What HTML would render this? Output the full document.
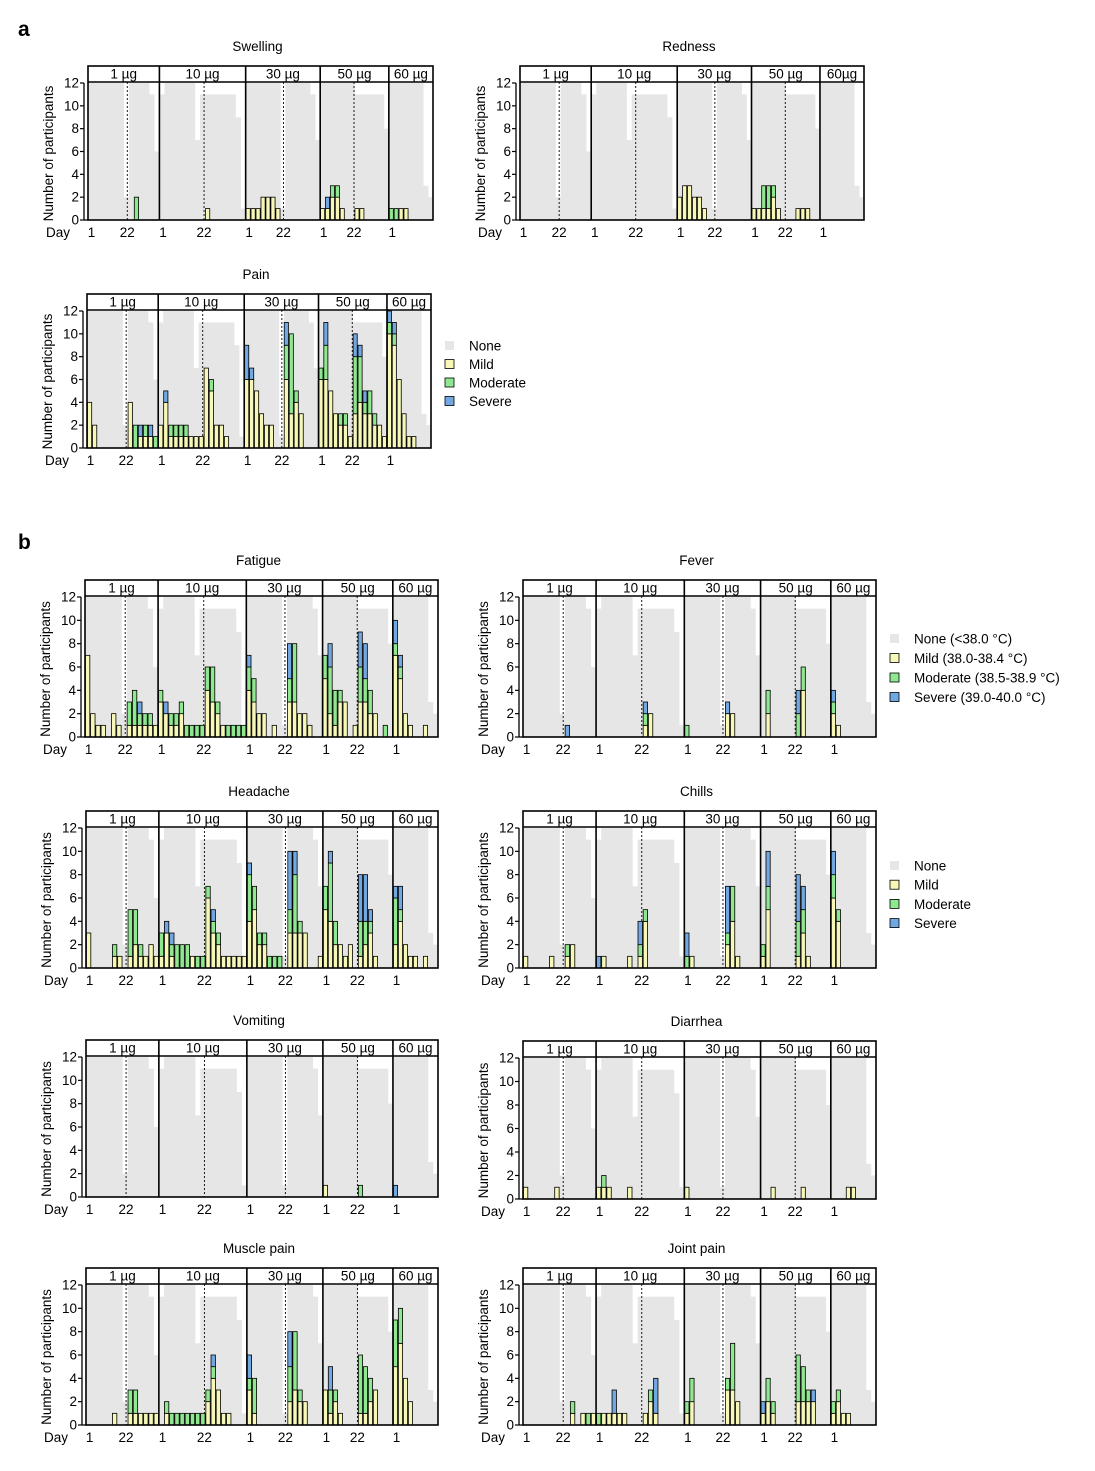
<!DOCTYPE html>
<html><head><meta charset="utf-8"><style>
html,body{margin:0;padding:0;background:#fff}
svg{display:block;font-family:"Liberation Sans",Arial,sans-serif}
</style></head><body>
<svg id="fig" width="1095" height="1471" viewBox="0 0 1095 1471" xmlns="http://www.w3.org/2000/svg">
<text x="18" y="36" font-size="21" font-weight="bold">a</text>
<text x="18" y="549" font-size="21" font-weight="bold">b</text>
</svg>
<script>
// dose groups and day slots
const groupLabels = ["1 \u00b5g","10 \u00b5g","30 \u00b5g","50 \u00b5g","60 \u00b5g"];
const groupSlots = [14,17,15,14,9];
const yTicks = [0,2,4,6,8,10,12];
// participants per slot ("None" background)
const noneG1 = [12,12,12,12,12,12,12,2,12,12,12,12,11,6];
const noneG2 = [11,12,12,12,12,12,12,7,11,11,11,11,11,11,11,9,1];
const noneG3 = [12,12,12,12,12,12,12,1,12,12,12,12,12,11,7];
const noneG4 = [12,12,12,12,12,12,12,11,11,11,11,11,11,8];
const noneG5 = [12,12,12,12,12,12,12,3,2];
// rows: [group, slot, mild, moderate, severe]
const swelling = [[0,9,0,2,0],[1,9,1,0,0],[2,0,1,0,0],[2,1,1,0,0],[2,2,1,0,0],[2,3,2,0,0],[2,4,2,0,0],[2,5,2,0,0],[2,6,1,0,0],
 [3,0,1,0,0],[3,1,1,0,1],[3,2,2,1,0],[3,3,2,1,0],[3,4,1,0,0],[3,7,1,0,0],[3,8,1,0,0],[4,0,0,1,0],[4,1,0,1,0],[4,2,1,0,0],[4,3,1,0,0]];
const redness = [[2,0,2,0,0],[2,1,3,0,0],[2,2,3,0,0],[2,3,2,0,0],[2,4,2,0,0],[2,5,1,0,0],
 [3,0,1,0,0],[3,1,1,0,0],[3,2,1,2,0],[3,3,1,2,0],[3,4,2,1,0],[3,5,1,0,0],[3,9,1,0,0],[3,10,1,0,0],[3,11,1,0,0]];
const pain = [[0,0,4,0,0],[0,1,2,0,0],[0,8,4,0,0],[0,9,0,2,0],[0,10,1,0,1],[0,11,1,1,0],[0,12,1,0,1],[0,13,0,1,0],
 [1,0,2,0,0],[1,1,4,0,1],[1,2,1,1,0],[1,3,1,1,0],[1,4,1,1,0],[1,5,1,1,0],[1,6,1,0,0],[1,7,1,0,0],[1,8,1,0,0],
 [1,9,7,0,0],[1,10,5,1,0],[1,11,2,0,0],[1,12,2,0,0],[1,13,1,0,0],
 [2,0,6,0,3],[2,1,6,0,1],[2,2,5,0,0],[2,3,3,0,0],[2,4,2,0,0],[2,5,2,0,0],[2,8,6,3,2],[2,9,3,7,0],[2,10,4,1,0],[2,11,3,0,0],
 [3,0,6,1,0],[3,1,6,3,2],[3,2,5,0,0],[3,3,3,0,0],[3,4,2,1,0],[3,5,2,1,0],[3,6,1,0,0],
 [3,7,3,5,2],[3,8,4,4,1],[3,9,3,1,1],[3,10,3,2,0],[3,11,2,1,0],[3,12,2,0,0],[3,13,1,0,0],
 [4,0,10,1,1],[4,1,9,1,1],[4,2,6,0,0],[4,3,3,0,0],[4,4,1,0,0],[4,5,1,0,0]];
const fatigue = [[0,0,7,0,0],[0,1,2,0,0],[0,2,1,0,0],[0,3,1,0,0],[0,5,2,0,0],[0,6,1,0,0],[0,8,1,2,0],[0,9,1,3,0],[0,10,1,1,1],[0,11,1,1,0],[0,12,1,1,0],[0,13,1,0,0],
 [1,0,3,1,0],[1,1,2,0,1],[1,2,1,1,0],[1,3,1,1,0],[1,4,2,1,0],[1,5,0,1,0],[1,6,0,1,0],[1,7,0,1,0],[1,8,0,1,0],
 [1,9,4,2,0],[1,10,3,3,0],[1,11,2,1,0],[1,12,1,0,0],[1,13,0,1,0],[1,14,0,1,0],[1,15,0,1,0],[1,16,0,1,0],
 [2,0,4,2,1],[2,1,3,2,0],[2,2,2,0,0],[2,3,2,0,0],[2,5,1,0,0],[2,8,3,2,3],[2,9,3,5,0],[2,10,2,0,0],[2,11,2,0,0],[2,12,1,0,0],
 [3,0,5,2,0],[3,1,2,4,2],[3,2,1,3,0],[3,3,3,1,0],[3,4,3,0,0],[3,6,1,0,0],[3,7,3,3,3],[3,8,3,2,3],[3,9,2,2,0],[3,10,2,0,0],[3,12,0,1,0],
 [4,0,7,1,2],[4,1,5,1,1],[4,2,2,0,0],[4,3,1,0,0],[4,6,1,0,0]];
const fever = [[0,8,0,0,1],[1,9,1,1,1],[1,10,2,0,0],[2,0,0,1,0],[2,8,2,0,1],[2,9,2,0,0],
 [3,1,2,2,0],[3,7,0,2,2],[3,8,4,2,0],[4,0,2,1,1],[4,1,1,0,0]];
const headache = [[0,0,3,0,0],[0,5,1,1,0],[0,6,1,0,0],[0,8,1,4,0],[0,9,2,3,0],[0,10,1,1,0],[0,11,1,0,0],[0,12,2,0,0],[0,13,1,0,0],
 [1,0,1,2,0],[1,1,3,0,1],[1,2,1,1,1],[1,3,0,2,0],[1,4,0,2,0],[1,5,0,2,0],[1,6,1,0,0],[1,7,0,1,0],[1,8,0,1,0],
 [1,9,6,1,0],[1,10,3,1,1],[1,11,2,1,0],[1,12,1,0,0],[1,13,1,0,0],[1,14,1,0,0],[1,15,1,0,0],[1,16,1,0,0],
 [2,0,4,4,1],[2,1,5,2,0],[2,2,2,1,0],[2,3,2,1,0],[2,4,0,1,0],[2,5,0,1,0],[2,6,0,1,0],[2,8,3,2,5],[2,9,3,5,2],[2,10,3,1,0],[2,11,3,0,0],[2,14,1,0,0],
 [3,0,5,2,0],[3,1,4,5,1],[3,2,2,2,0],[3,3,2,0,0],[3,4,1,0,0],[3,5,2,0,0],[3,7,1,3,4],[3,8,2,2,4],[3,9,3,1,1],[3,10,1,0,0],
 [4,0,2,4,1],[4,1,4,1,2],[4,2,2,0,0],[4,3,1,0,0],[4,4,1,0,0],[4,6,1,0,0]];
const chills = [[0,0,1,0,0],[0,5,1,0,0],[0,8,1,1,0],[0,9,2,0,0],[1,0,0,0,1],[1,1,1,0,0],[1,6,1,0,0],[1,8,1,1,2],[1,9,4,1,0],
 [2,0,0,1,2],[2,1,1,0,0],[2,8,2,1,4],[2,9,4,3,0],[2,10,1,0,0],
 [3,0,1,1,0],[3,1,5,2,3],[3,7,1,3,4],[3,8,3,2,2],[3,9,1,0,0],[4,0,6,2,2],[4,1,4,1,0]];
const vomiting = [[3,0,1,0,0],[3,7,0,1,0],[4,0,0,0,1]];
const diarrhea = [[0,0,1,0,0],[0,6,1,0,0],[1,0,1,0,0],[1,1,1,1,0],[1,2,1,0,0],[1,6,1,0,0],[2,0,1,0,0],[3,2,1,0,0],[3,8,1,0,0],[4,3,1,0,0],[4,4,1,0,0]];
const musclePain = [[0,5,1,0,0],[0,8,1,2,0],[0,9,1,2,0],[0,10,1,0,0],[0,11,1,0,0],[0,12,1,0,0],[0,13,1,0,0],
 [1,1,1,1,0],[1,2,0,1,0],[1,3,0,1,0],[1,4,0,1,0],[1,5,0,1,0],[1,6,0,1,0],[1,7,0,1,0],[1,8,0,1,0],
 [1,9,2,1,0],[1,10,4,1,1],[1,11,3,0,0],[1,12,1,0,0],[1,13,1,0,0],
 [2,0,3,1,2],[2,1,1,3,0],[2,8,2,3,3],[2,9,3,5,0],[2,10,2,1,0],[2,11,2,0,0],
 [3,0,3,0,0],[3,1,1,2,2],[3,2,2,1,0],[3,3,1,0,0],[3,7,1,5,0],[3,8,1,4,0],[3,9,2,2,0],[3,10,3,0,0],
 [4,0,5,4,0],[4,1,7,3,0],[4,2,4,0,0],[4,3,2,0,0]];
const jointPain = [[0,9,1,1,0],[0,11,1,0,0],[0,12,0,1,0],[0,13,1,0,0],
 [1,0,0,1,0],[1,1,1,0,0],[1,2,1,0,0],[1,3,1,0,2],[1,4,1,0,0],[1,5,1,0,0],[1,9,1,0,0],[1,10,2,1,0],[1,11,1,0,3],
 [2,0,1,1,0],[2,1,2,2,0],[2,8,3,1,0],[2,9,3,4,0],[2,10,2,0,0],
 [3,0,1,0,1],[3,1,2,2,0],[3,2,1,1,0],[3,7,2,4,0],[3,8,2,3,0],[3,9,2,1,0],[3,10,2,0,1],
 [4,0,1,1,0],[4,1,2,1,0],[4,2,1,0,0],[4,3,1,0,0]];

const noneAll = [noneG1,noneG2,noneG3,noneG4,noneG5];
const dashSlot = [7.7,8.8,7.6,6.9];
const groupFrac = [0.207,0.25,0.216,0.199,0.128];
const COL = {none:"#e6e6e6", mild:"#f7f8b8", mod:"#8fe88f", sev:"#72a8e2"};
const NS = "http://www.w3.org/2000/svg";
const svg = document.getElementById("fig");
function mk(tag, attrs, parent){
  const e = document.createElementNS(NS, tag);
  for (const k in attrs) e.setAttribute(k, attrs[k]);
  (parent||svg).appendChild(e);
  return e;
}
const panels = [
 {title:"Swelling", key:"swelling", data:swelling, x0:88, x1:433, top:66, y0:220},
 {title:"Redness", key:"redness", data:redness, x0:520, x1:864, top:66, y0:220, g60:"60\u00b5g"},
 {title:"Pain", key:"pain", data:pain, x0:87, x1:431, top:294, y0:448},
 {title:"Fatigue", key:"fatigue", data:fatigue, x0:85, x1:438, top:580, y0:737},
 {title:"Fever", key:"fever", data:fever, x0:523, x1:876, top:580, y0:737},
 {title:"Headache", key:"headache", data:headache, x0:86, x1:438, top:811, y0:968},
 {title:"Chills", key:"chills", data:chills, x0:523, x1:876, top:811, y0:968},
 {title:"Vomiting", key:"vomiting", data:vomiting, x0:86, x1:438, top:1040, y0:1197},
 {title:"Diarrhea", key:"diarrhea", data:diarrhea, x0:523, x1:876, top:1041, y0:1199},
 {title:"Muscle pain", key:"muscle-pain", data:musclePain, x0:86, x1:438, top:1268, y0:1425},
 {title:"Joint pain", key:"joint-pain", data:jointPain, x0:523, x1:876, top:1268, y0:1425}
];
panels.forEach(p=>{
  const g = mk("g",{});
  
  
  const hb = p.top+16, yTop = hb+1;
  const yS = v => p.y0 - v*(p.y0-yTop)/12;
  const W = p.x1-p.x0;
  const gStart = [], gW = [], gSw = []; let acc = p.x0;
  groupFrac.forEach((f,i)=>{gStart.push(acc); gW.push(f*W); gSw.push(f*W/groupSlots[i]); acc+=f*W;});
  const xS = (gi,s) => gStart[gi]+s*gSw[gi];
  const t = mk("text",{x:(p.x0+p.x1)/2-3,y:p.top-15,"font-size":13.5,"text-anchor":"middle"},g);
  t.textContent = p.title;
  
  
  noneAll.forEach((arr,gi)=>{
    arr.forEach((v,s)=>{
      const r = mk("rect",{x:xS(gi,s),y:yS(v),width:gSw[gi]+0.3,height:p.y0-yS(v),fill:COL.none},g);
      
      
    });
  });
  dashSlot.forEach((d,gi)=>{
    const l = mk("line",{x1:xS(gi,d),x2:xS(gi,d),y1:hb,y2:p.y0,stroke:"#000","stroke-width":0.9,"stroke-dasharray":"2,2"},g);
    
    
  });
  p.data.forEach(row=>{
    const [gi,s,m,mo,sv] = row;
    let base = 0;
    [[m,COL.mild,"mild"],[mo,COL.mod,"moderate"],[sv,COL.sev,"severe"]].forEach(([v,c,n])=>{
      if(!v) return;
      const r = mk("rect",{x:xS(gi,s)+0.4,y:yS(base+v),width:gSw[gi]-0.8,height:yS(base)-yS(base+v),fill:c,stroke:"#000","stroke-width":0.8},g);
      
      
      base += v;
    });
  });
  mk("rect",{x:p.x0,y:p.top,width:W,height:p.y0-p.top,fill:"none",stroke:"#000","stroke-width":1.6},g);
  mk("line",{x1:p.x0,x2:p.x1,y1:hb,y2:hb,stroke:"#000","stroke-width":1.6},g);
  groupLabels.forEach((lab,gi)=>{
    const gx = gStart[gi], gw = gW[gi];
    if(gi>0) mk("line",{x1:gx,x2:gx,y1:p.top,y2:p.y0,stroke:"#000","stroke-width":1.6},g);
    const tx = mk("text",{x:gx+gw/2,y:p.top+12.5,"font-size":13.5,"text-anchor":"middle"},g);
    tx.textContent = (gi===4 && p.g60) ? p.g60 : lab;
    
    
    const d1 = mk("text",{x:gx+gSw[gi]*0.5+1,y:p.y0+17,"font-size":13.5,"text-anchor":"middle"},g);
    d1.textContent = "1";
    
    
    if(gi<4){
      const d2 = mk("text",{x:xS(gi,dashSlot[gi]),y:p.y0+17,"font-size":13.5,"text-anchor":"middle"},g);
      d2.textContent = "22";
      
      
    }
  });
  const ax = p.x0-4;
  mk("line",{x1:ax,x2:ax,y1:yTop,y2:p.y0,stroke:"#000","stroke-width":1.3},g);
  mk("line",{x1:ax,x2:p.x0,y1:p.y0,y2:p.y0,stroke:"#000","stroke-width":1.3},g);
  yTicks.forEach(v=>{
    mk("line",{x1:ax-4,x2:ax,y1:yS(v),y2:yS(v),stroke:"#000","stroke-width":1.2},g);
    const tl = mk("text",{x:ax-5,y:yS(v)+4.5,"font-size":13.5,"text-anchor":"end"},g);
    tl.textContent = v;
    
    
  });
  const yt = mk("text",{x:0,y:0,"font-size":13.5,"text-anchor":"middle",transform:`translate(${p.x0-35},${(yTop+p.y0)/2+2}) rotate(-90)`},g);
  yt.textContent = "Number of participants";
  
  
  const dl = mk("text",{x:p.x0-42,y:p.y0+17,"font-size":13.5},g);
  dl.textContent = "Day";
  
  
});
const legA = ["None","Mild","Moderate","Severe"];
const legFever = ["None (<38.0 \u00b0C)","Mild (38.0-38.4 \u00b0C)","Moderate (38.5-38.9 \u00b0C)","Severe (39.0-40.0 \u00b0C)"];
const legCols = [COL.none,COL.mild,COL.mod,COL.sev];
function legend(x,y,labels,step){
  labels.forEach((lab,i)=>{
    const yy = y+i*step;
    const r = mk("rect",{x:x,y:yy-5,width:9,height:9,fill:legCols[i],stroke:i?"#000":"none","stroke-width":0.8});
    
    
    const t = mk("text",{x:x+24,y:yy+4.5,"font-size":13.5});
    t.textContent = lab;
    
    
  });
}
legend(445,346,legA,18.5);
legend(890,639,legFever,19.5);
legend(890,866,legA,19.2);
</script>
</body></html>
